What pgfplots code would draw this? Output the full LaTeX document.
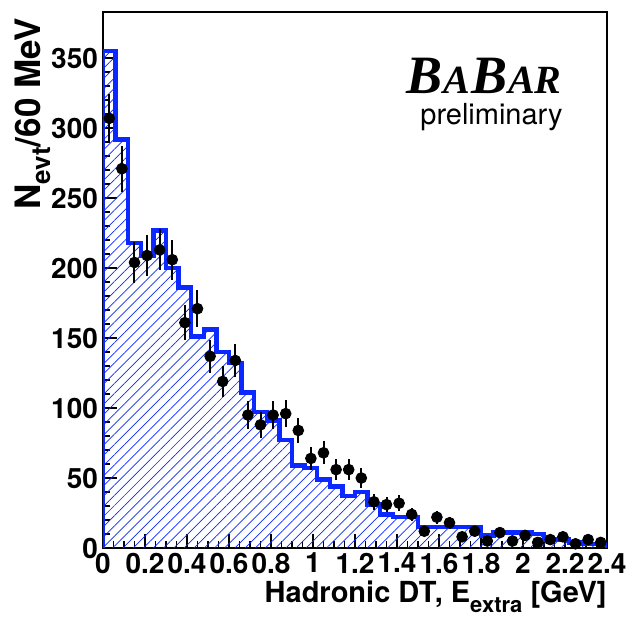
\documentclass[border=0pt]{standalone}
\usepackage{pgfplots}
\pgfplotsset{compat=1.18}
\usepackage{pgfplotstable}
\usepackage{fontspec}
\setmainfont{TeX Gyre Heros}
\newfontfamily\timesf{Liberation Serif}
\usetikzlibrary{patterns.meta}
\definecolor{rootblue}{RGB}{10,40,255}

\pgfplotstableread{
x y
0.00 0
0.00 355
0.06 292
0.12 218
0.18 209
0.24 227
0.30 200
0.36 186
0.42 151
0.48 156
0.54 140
0.60 132
0.66 111
0.72 97
0.78 91
0.84 77
0.90 59
0.96 57
1.02 49
1.08 44
1.14 37
1.20 40
1.26 31
1.32 24
1.38 22
1.44 22
1.50 15
1.56 15
1.62 15
1.68 15
1.74 15
1.80 9
1.86 11
1.92 11
1.98 11
2.04 10
2.10 6
2.16 6
2.22 4
2.28 3
2.34 3
2.40 3
2.40 0
}\histtab

\pgfplotstableread{
x y e
0.03 307 17.5
0.09 271 16.5
0.15 204 14.3
0.21 209 14.5
0.27 213 14.6
0.33 206 14.4
0.39 161 12.7
0.45 171 13.1
0.51 137 11.7
0.57 119 10.9
0.63 134 11.6
0.69 95 9.7
0.75 88 9.4
0.81 95 9.7
0.87 96 9.8
0.93 84 9.2
0.99 64 8.0
1.05 68 8.2
1.11 56 7.5
1.17 56 7.5
1.23 50 7.1
1.29 33 5.7
1.35 31 5.6
1.41 32 5.7
1.47 24 4.9
1.53 12 3.5
1.59 22 4.7
1.65 18 4.2
1.71 8 2.8
1.77 12 3.5
1.83 5 2.2
1.89 11 3.3
1.95 5 2.2
2.01 9 3.0
2.07 4 2.0
2.13 6 2.4
2.19 8 2.8
2.25 3 1.7
2.31 6 2.4
2.37 4 2.0
}\datatab

\begin{document}
\begin{tikzpicture}
\begin{axis}[
  name=ax,
  scale only axis, width=252pt, height=268pt,
  xmin=0, xmax=2.4, ymin=0, ymax=383,
  xtick={0,0.2,0.4,0.6,0.8,1,1.2,1.4,1.6,1.8,2,2.2,2.4},
  xticklabels={0,0.2,0.4,0.6,0.8,1,1.2,1.4,1.6,1.8,2,2.2,2.4},
  ytick={0,50,100,150,200,250,300,350},
  minor x tick num=3, minor y tick num=4,
  tick align=inside, xtick pos=left, ytick pos=left,
  major tick length=7pt, minor tick length=3.5pt,
  tick style={line width=0.9pt, black},
  axis line style={line width=1.4pt},
  tick label style={font=\fontsize{14}{14}\selectfont\bfseries},
  xticklabel style={yshift=1pt},
  yticklabel style={xshift=1pt},
  /pgf/number format/assume math mode=true,
]
\addplot[const plot, draw=none, pattern={Lines[angle=45,distance=3.6pt,line width=0.35pt]}, pattern color=rootblue] table[x=x,y=y] {\histtab} \closedcycle;
\addplot[const plot, rootblue, line width=2.2pt, line join=miter] table[x=x,y=y] {\histtab};
\addplot[only marks, mark=*, mark size=2.7pt, black,
  error bars/.cd, y dir=both, y explicit, error mark=none,
  error bar style={line width=1pt, black}]
  table[x=x, y=y, y error=e] {\datatab};
\end{axis}
\node[rotate=90, anchor=north east, inner sep=0pt, font=\fontsize{17.5}{17.5}\selectfont\bfseries]
  at ([xshift=-44pt,yshift=-3pt]ax.north west) {N\raisebox{-5pt}{\fontsize{13}{13}\selectfont evt}/60 MeV};
\node[anchor=base east, inner sep=0pt, font=\fontsize{14.5}{14.5}\selectfont\bfseries]
  at ([xshift=0pt,yshift=-27.5pt]ax.south east) {Hadronic DT, E\raisebox{-4.5pt}{\fontsize{11}{11}\selectfont extra} [GeV]};
\node[anchor=base east, inner sep=0pt, font=\timesf\bfseries\itshape]
  at ([xshift=229.5pt,yshift=227pt]ax.south west) {\fontsize{27}{27}\selectfont B\kern0.5pt\fontsize{20}{20}\selectfont A\kern0.5pt\fontsize{27}{27}\selectfont B\kern0.5pt\fontsize{20}{20}\selectfont AR};
\node[anchor=base east, inner sep=0pt, font=\fontsize{14.5}{14.5}\selectfont]
  at ([xshift=230pt,yshift=211.5pt]ax.south west) {preliminary};
\pgfresetboundingbox
\path[use as bounding box] ([xshift=-51.5pt,yshift=-36pt]ax.south west) rectangle ([xshift=264pt,yshift=274pt]ax.south west);
\end{tikzpicture}
\end{document}
